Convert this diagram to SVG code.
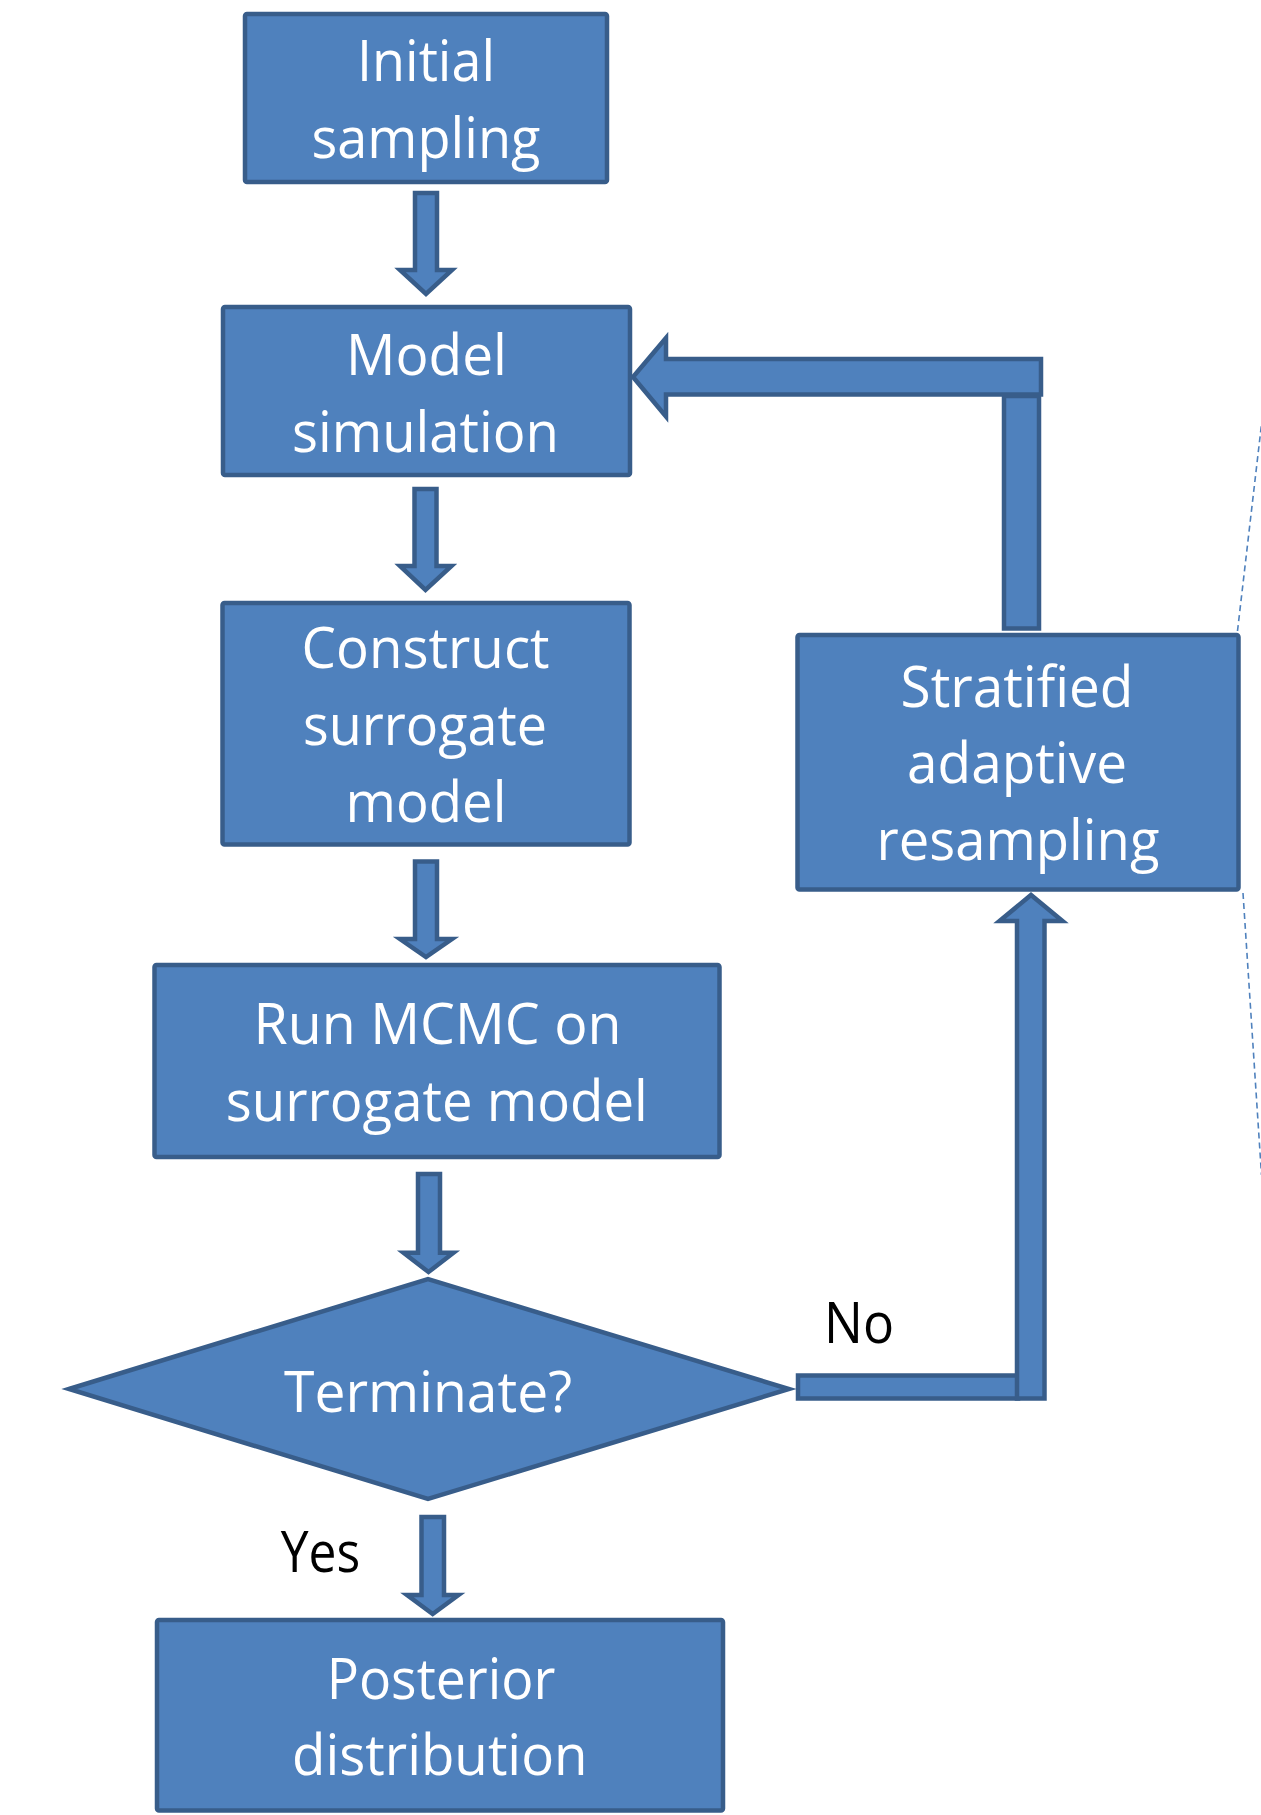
<svg xmlns="http://www.w3.org/2000/svg" width="1261" height="1815" viewBox="0 0 1261 1815">
<style>
.box{fill:#4F81BD;stroke:#385D8A;stroke-width:4.5;stroke-linejoin:miter}
.arr{fill:#4F81BD;stroke:#385D8A;stroke-width:4.5;stroke-linejoin:miter}
.t{font-family:"Open Sans","Liberation Sans",sans-serif;font-size:57px;fill:#FFFFFF;text-anchor:middle}
.lbl{font-family:"Open Sans","Liberation Sans",sans-serif;font-size:56px;fill:#000000;text-anchor:middle}
.dash{fill:none;stroke:#4F81BD;stroke-width:1.6;stroke-dasharray:6 4}
</style>
<rect width="1261" height="1815" fill="#FFFFFF"/>
<g id="connectors">
  <path class="arr" d="M415,193 H437 V270 H452 L426,294 L400,270 H415 Z"/>
  <path class="arr" d="M414.5,489 H436.5 V566 H451.5 L425.5,590 L400,566 H414.5 Z"/>
  <path class="arr" d="M415,861.5 H437 V939 H452 L426,957 L400,939 H415 Z"/>
  <path class="arr" d="M418,1174 H440 V1252.7 H453.5 L428.5,1272 L403.5,1252.7 H418 Z"/>
  <path class="arr" d="M421.5,1517 H444 V1595 H458.5 L432.7,1614 L407,1595 H421.5 Z"/>
  <rect class="arr" x="1004" y="396" width="35" height="232.5"/>
  <path class="arr" d="M1041,359 V394.5 H666 V416.5 L633,377 L666,338 V359 Z"/>
  <rect class="arr" x="798" y="1375.5" width="220" height="23"/>
  <path class="arr" d="M1017,1398.5 H1044.5 V921 H1062.5 L1031,895 L999.5,921 H1017 Z"/>
  <path class="dash" d="M1237.5,631 L1262,420"/>
  <path class="dash" d="M1243,893 L1261.5,1175"/>
</g>
<g id="node-initial">
  <rect class="box" x="245" y="14" width="362" height="168" rx="2"/>
  <text class="t" x="426" y="81" textLength="138" lengthAdjust="spacingAndGlyphs">Initial</text>
  <text class="t" x="426" y="158" textLength="229" lengthAdjust="spacingAndGlyphs">sampling</text>
</g>
<g id="node-model">
  <rect class="box" x="223" y="307" width="407" height="168" rx="2"/>
  <text class="t" x="426.5" y="375" textLength="161" lengthAdjust="spacingAndGlyphs">Model</text>
  <text class="t" x="425.5" y="451.5" textLength="267" lengthAdjust="spacingAndGlyphs">simulation</text>
</g>
<g id="node-construct">
  <rect class="box" x="222.5" y="603" width="407" height="241.5" rx="2"/>
  <text class="t" x="425.6" y="668.3" textLength="248" lengthAdjust="spacingAndGlyphs">Construct</text>
  <text class="t" x="425" y="745" textLength="244" lengthAdjust="spacingAndGlyphs">surrogate</text>
  <text class="t" x="426" y="821.7" textLength="161" lengthAdjust="spacingAndGlyphs">model</text>
</g>
<g id="node-stratified">
  <rect class="box" x="797.5" y="635" width="441" height="254.5" rx="2"/>
  <text class="t" x="1017" y="706.7" textLength="233" lengthAdjust="spacingAndGlyphs">Stratified</text>
  <text class="t" x="1017" y="783.3" textLength="220" lengthAdjust="spacingAndGlyphs">adaptive</text>
  <text class="t" x="1018" y="860" textLength="283" lengthAdjust="spacingAndGlyphs">resampling</text>
</g>
<g id="node-mcmc">
  <rect class="box" x="154.5" y="965" width="565" height="192" rx="2"/>
  <text class="t" x="437.5" y="1044" textLength="368" lengthAdjust="spacingAndGlyphs">Run MCMC on</text>
  <text class="t" x="436.8" y="1120.7" textLength="422" lengthAdjust="spacingAndGlyphs">surrogate model</text>
</g>
<g id="node-terminate">
  <polygon class="box" points="69,1389 428,1279 789,1389 428,1499" stroke-linejoin="round"/>
  <text class="t" x="428" y="1411.7" textLength="288" lengthAdjust="spacingAndGlyphs">Terminate?</text>
</g>
<g id="node-posterior">
  <rect class="box" x="157" y="1620" width="566" height="190.5" rx="2"/>
  <text class="t" x="441" y="1699" textLength="228.6" lengthAdjust="spacingAndGlyphs">Posterior</text>
  <text class="t" x="439.8" y="1775" textLength="295.5" lengthAdjust="spacingAndGlyphs">distribution</text>
</g>
<g id="labels">
  <text class="lbl" x="859" y="1342.7" textLength="70" lengthAdjust="spacingAndGlyphs">No</text>
  <text class="lbl" x="320.5" y="1571.7" textLength="79.5" lengthAdjust="spacingAndGlyphs">Yes</text>
</g>
</svg>
